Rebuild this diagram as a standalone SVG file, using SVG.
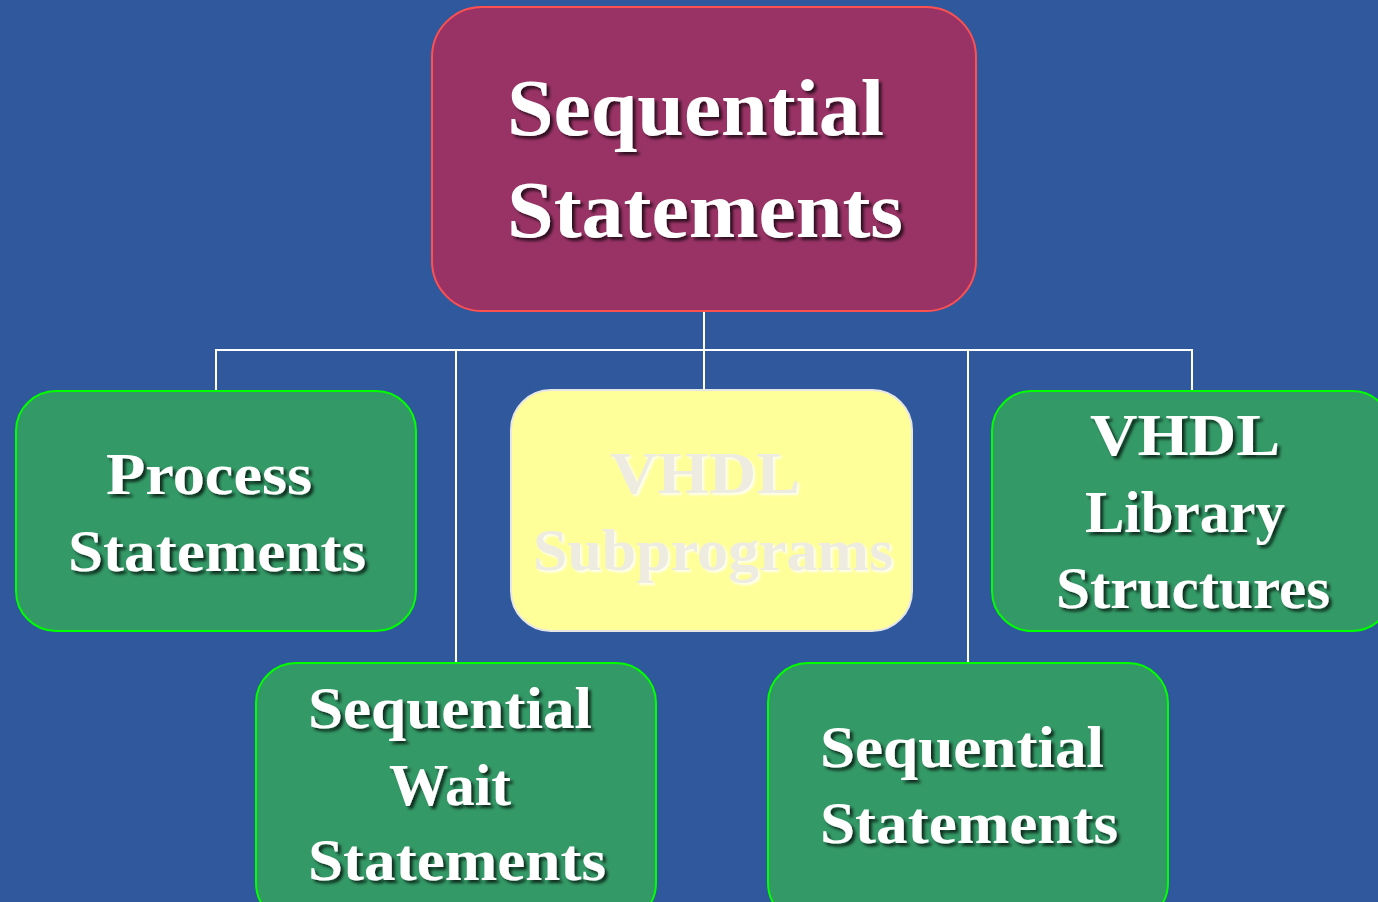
<svg xmlns="http://www.w3.org/2000/svg" width="1378" height="902" viewBox="0 0 1378 902">
<defs>
<filter id="sh" x="-10%" y="-20%" width="130%" height="150%">
<feDropShadow dx="3" dy="3" stdDeviation="1.5" flood-color="#000" flood-opacity="0.7"/>
</filter>
<filter id="shw" x="-10%" y="-20%" width="130%" height="150%">
<feDropShadow dx="2" dy="2" stdDeviation="1" flood-color="#fff" flood-opacity="0.9"/>
</filter>
<style>
.t{font-family:"Liberation Serif","Times New Roman",serif;font-weight:bold;fill:#fff;font-size:60px;filter:url(#sh)}
.big{font-size:80px}
.pale{fill:#EEECE1;filter:url(#shw)}
.g{fill:#339966;stroke:#00FF00;stroke-width:2}
.c{stroke:#fff;stroke-width:2;fill:none}
</style>
</defs>
<rect width="1378" height="902" fill="#2F589D"/>
<g id="connectors">
<path class="c" d="M704 311V350M216 390V350H1192V390M456 350V663M704 350V390M968 350V663"/>
</g>
<g id="root">
<rect x="432" y="7" width="544" height="304" rx="50" fill="#993366" stroke="#FF5050" stroke-width="2"/>
<text class="t big" x="507" y="135" textLength="377" lengthAdjust="spacingAndGlyphs">Sequential</text>
<text class="t big" x="507" y="237" textLength="396" lengthAdjust="spacingAndGlyphs">Statements</text>
</g>
<g id="process">
<rect class="g" x="16" y="391" width="400" height="240" rx="40"/>
<text class="t" x="106" y="494" textLength="206" lengthAdjust="spacingAndGlyphs">Process</text>
<text class="t" x="68" y="571" textLength="298" lengthAdjust="spacingAndGlyphs">Statements</text>
</g>
<g id="subprograms">
<rect x="511" y="390" width="401" height="241" rx="40" fill="#FFFF99" stroke="#E6E6E6" stroke-width="2"/>
<text class="t pale" x="610" y="493" textLength="190" lengthAdjust="spacingAndGlyphs">VHDL</text>
<text class="t pale" x="533" y="570" textLength="360" lengthAdjust="spacingAndGlyphs">Subprograms</text>
</g>
<g id="library">
<rect class="g" x="992" y="391" width="400" height="240" rx="40"/>
<text class="t" x="1090" y="455" textLength="190" lengthAdjust="spacingAndGlyphs">VHDL</text>
<text class="t" x="1085" y="532" textLength="200" lengthAdjust="spacingAndGlyphs">Library</text>
<text class="t" x="1056" y="608" textLength="274" lengthAdjust="spacingAndGlyphs">Structures</text>
</g>
<g id="wait">
<rect class="g" x="256" y="663" width="400" height="260" rx="40"/>
<text class="t" x="308" y="728" textLength="284" lengthAdjust="spacingAndGlyphs">Sequential</text>
<text class="t" x="389" y="805" textLength="122" lengthAdjust="spacingAndGlyphs">Wait</text>
<text class="t" x="308" y="880" textLength="298" lengthAdjust="spacingAndGlyphs">Statements</text>
</g>
<g id="seqstatements">
<rect class="g" x="768" y="663" width="400" height="260" rx="40"/>
<text class="t" x="820" y="767" textLength="284" lengthAdjust="spacingAndGlyphs">Sequential</text>
<text class="t" x="820" y="843" textLength="298" lengthAdjust="spacingAndGlyphs">Statements</text>
</g>
</svg>
